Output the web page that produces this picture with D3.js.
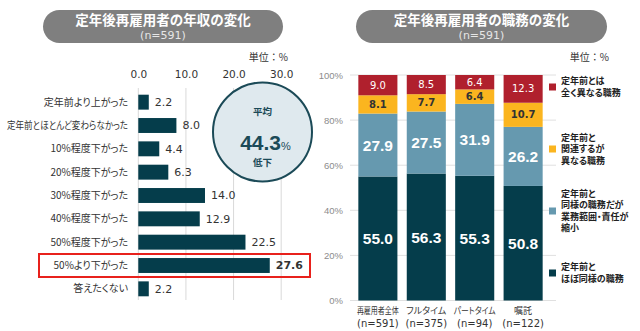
<!DOCTYPE html>
<html><head><meta charset="utf-8">
<script src="https://cdn.jsdelivr.net/npm/d3@7"></script>
<style>
html,body{margin:0;padding:0;background:#fff;}
svg{display:block;font-family:"Noto Sans CJK JP","Noto Sans",sans-serif;}
.jp{font-feature-settings:"palt" 1;}
</style></head>
<body><svg id="c" width="640" height="331"></svg>
<script>
// ---- Left chart data ----
const incomeCategories = ["定年前より上がった","定年前とほとんど変わらなかった","10%程度下がった","20%程度下がった","30%程度下がった","40%程度下がった","50%程度下がった","50%より下がった","答えたくない"];
const incomeValues = [2.2, 8.0, 4.4, 6.3, 14.0, 12.9, 22.5, 27.6, 2.2];
const incomeTicks = [0, 10, 20, 30];
const highlightCategory = "50%より下がった";
const averageDrop = 44.3;

// ---- Right chart data ----
const jobCategories = ["再雇用者全体","フルタイム","パートタイム","嘱託"];
const jobCounts = ["(n=591)","(n=375)","(n=94)","(n=122)"];
const seriesNames = ["定年前とほぼ同様の職務","定年前と同様の職務だが業務範囲・責任が縮小","定年前と関連するが異なる職務","定年前とは全く異なる職務"];
const sameJob = [55.0, 56.3, 55.3, 50.8];
const reducedJob = [27.9, 27.5, 31.9, 26.2];
const relatedJob = [8.1, 7.7, 6.4, 10.7];
const differentJob = [9.0, 8.5, 6.4, 12.3];
const yTicks = [0, 20, 40, 60, 80, 100];
const legendLines = [
  ["定年前とは","全く異なる職務"],
  ["定年前と","関連するが","異なる職務"],
  ["定年前と","同様の職務だが","業務範囲・責任が","縮小"],
  ["定年前と","ほぼ同様の職務"]
];

const colors = ["#053d4b", "#6699af", "#fbb51f", "#b0202d"];
const svg = d3.select("#c");
const txt = "#333";
const numFont = "'DejaVu Sans',Verdana,sans-serif";
const arial = "'Liberation Sans',Arial,sans-serif";

function fit(sel, maxW) {
  sel.each(function () {
    const w = this.getComputedTextLength();
    if (w > maxW) d3.select(this).attr("textLength", maxW).attr("lengthAdjust", "spacingAndGlyphs");
  });
}

// ---- Titles ----
function pill(cx, x0, x1, title, n) {
  svg.append("rect").attr("x", x0).attr("y", 10).attr("width", x1 - x0).attr("height", 33)
    .attr("rx", 16.5).attr("fill", "#7f7f7f");
  svg.append("text").attr("x", cx).attr("y", 25).attr("text-anchor", "middle")
    .attr("fill", "#fff").attr("font-size", 13.5).attr("font-weight", "bold").text(title);
  svg.append("text").attr("x", cx).attr("y", 39).attr("text-anchor", "middle")
    .attr("fill", "#e6e6e6").attr("font-size", 11).attr("font-family", numFont).text(n);
}
pill(163, 43, 283, "定年後再雇用者の年収の変化", "(n=591)");
pill(481.5, 356, 607, "定年後再雇用者の職務の変化", "(n=591)");
svg.append("text").attr("x", 288).attr("y", 61).attr("text-anchor", "end").attr("fill", txt).attr("font-size", 10).text("単位：%");
svg.append("text").attr("x", 609).attr("y", 61).attr("text-anchor", "end").attr("fill", txt).attr("font-size", 10).text("単位：%");

// ---- Left chart ----
const x = d3.scaleLinear().domain([0, 30]).range([138.3, 281.2]);
const y = d3.scaleBand().domain(incomeCategories).range([90.5, 300.5]).paddingInner(0.36).paddingOuter(0.18);

const gL = svg.append("g");
gL.selectAll("line.grid").data(incomeTicks).join("line")
  .attr("x1", d => x(d)).attr("x2", d => x(d)).attr("y1", 88).attr("y2", 300)
  .attr("stroke", "#d9d9d9").attr("stroke-width", 1);

const xAxis = d3.axisTop(x).tickValues(incomeTicks).tickFormat(d3.format(".1f")).tickSize(0);
const xa = gL.append("g").attr("transform", "translate(0,81)").call(xAxis);
xa.select(".domain").remove();
xa.selectAll("text").attr("font-size", 10.5).attr("fill", txt).attr("font-family", numFont).attr("dy", 0);

// circle
const cx = 262.5, cy = 132;
gL.append("circle").attr("cx", cx).attr("cy", cy).attr("r", 49.5)
  .attr("fill", "#dfe9ee").attr("stroke", "#1b4a57").attr("stroke-width", 2);
gL.append("text").attr("x", cx).attr("y", 115).attr("text-anchor", "middle").attr("fill", "#1b4a57")
  .attr("font-size", 9.5).attr("font-weight", "bold").text("平均");
const big = gL.append("text").attr("x", cx + 3).attr("y", 150).attr("text-anchor", "middle").attr("fill", "#1b4a57").attr("font-weight", "bold");
big.append("tspan").attr("font-size", 21).attr("font-family", arial).text(averageDrop.toFixed(1));
big.append("tspan").attr("font-size", 11).attr("font-weight", "normal").attr("font-family", arial).text("%");
gL.append("text").attr("x", cx).attr("y", 166).attr("text-anchor", "middle").attr("fill", "#1b4a57")
  .attr("font-size", 9.5).attr("font-weight", "bold").text("低下");

// bars
gL.selectAll("rect.bar").data(incomeValues).join("rect")
  .attr("x", x(0)).attr("y", (d, i) => y(incomeCategories[i]))
  .attr("width", d => x(d) - x(0)).attr("height", y.bandwidth())
  .attr("fill", colors[0]);
gL.selectAll("text.val").data(incomeValues).join("text")
  .attr("x", d => x(d) + 6).attr("y", (d, i) => y(incomeCategories[i]) + y.bandwidth() / 2)
  .attr("dy", "0.36em").attr("font-size", 11).attr("fill", txt)
  .attr("font-family", numFont)
  .attr("font-weight", (d, i) => incomeCategories[i] === highlightCategory ? "bold" : "normal")
  .text(d => d.toFixed(1));
const catL = gL.selectAll("text.cat").data(incomeCategories).join("text")
  .attr("class", "jp")
  .attr("x", 128).attr("y", d => y(d) + y.bandwidth() / 2).attr("dy", "0.36em")
  .attr("text-anchor", "end").attr("font-size", 10).attr("fill", txt).text(d => d);
fit(catL, 121);

// highlight box
const hy = y(highlightCategory) + y.bandwidth() / 2;
gL.append("rect").attr("x", 39).attr("y", hy - 11.5).attr("width", 271).attr("height", 23)
  .attr("fill", "none").attr("stroke", "#e8211c").attr("stroke-width", 2);

// ---- Right chart ----
const yR = d3.scaleLinear().domain([0, 100]).range([300.5, 75]);
const xR = d3.scaleBand().domain(jobCategories).range([353.5, 547.5]).paddingInner(0.193).paddingOuter(0.1);
const gR = svg.append("g");
gR.selectAll("line.grid").data(yTicks).join("line")
  .attr("x1", 350).attr("x2", 556).attr("y1", d => yR(d)).attr("y2", d => yR(d))
  .attr("stroke", "#e0e0e0").attr("stroke-width", 1);
const yAxis = d3.axisLeft(yR).tickValues(yTicks).tickFormat(d => d + "%").tickSize(0);
const ya = gR.append("g").attr("transform", "translate(346,0)").call(yAxis);
ya.select(".domain").remove();
ya.selectAll("text").attr("font-size", 9.5).attr("fill", "#8c8c8c").attr("font-family", arial).attr("dx", 0);

const table = jobCategories.map((c, i) => ({cat: c, s0: sameJob[i], s1: reducedJob[i], s2: relatedJob[i], s3: differentJob[i]}));
const stack = d3.stack().keys(["s0", "s1", "s2", "s3"])(table);
stack.forEach((layer, li) => {
  const g = gR.append("g");
  g.selectAll("rect").data(layer).join("rect")
    .attr("x", d => xR(d.data.cat)).attr("width", xR.bandwidth())
    .attr("y", d => yR(d[1])).attr("height", d => yR(d[0]) - yR(d[1]))
    .attr("fill", colors[li]);
  g.selectAll("text").data(layer).join("text")
    .attr("x", d => xR(d.data.cat) + xR.bandwidth() / 2)
    .attr("y", d => (yR(d[0]) + yR(d[1])) / 2).attr("dy", "0.36em")
    .attr("text-anchor", "middle")
    .attr("font-family", li < 2 ? arial : numFont)
    .attr("font-size", li < 2 ? 15.5 : 10)
    .attr("font-weight", li === 3 ? "normal" : "bold")
    .attr("fill", li === 2 ? "#333" : "#fff")
    .text(d => (d[1] - d[0]).toFixed(1));
});
// category labels
const catR = gR.selectAll("text.cat").data(jobCategories).join("text")
  .attr("class", "jp")
  .attr("x", d => xR(d) + xR.bandwidth() / 2).attr("y", 314).attr("text-anchor", "middle")
  .attr("font-size", 9).attr("fill", txt).text(d => d);
fit(catR, 42);
gR.selectAll("text.n").data(jobCategories).join("text")
  .attr("x", d => xR(d) + xR.bandwidth() / 2).attr("y", 327).attr("text-anchor", "middle")
  .attr("font-size", 10).attr("font-family", numFont).attr("fill", txt).text((d, i) => jobCounts[i]);

// legend
const legendY = [87, 149, 211, 273];
const legendColors = [colors[3], colors[2], colors[1], colors[0]];
legendLines.forEach((lines, i) => {
  const g = gR.append("g");
  g.append("rect").attr("x", 549).attr("y", legendY[i] - 3.5).attr("width", 7).attr("height", 7).attr("fill", legendColors[i]);
  const h = (lines.length - 1) * 11.5;
  lines.forEach((t, j) => {
    g.append("text").attr("class", "jp").attr("x", 561).attr("y", legendY[i] - h / 2 + j * 11.5).attr("dy", "0.36em")
      .attr("font-size", 9).attr("font-weight", "bold").attr("fill", "#222").text(t);
  });
});
</script></body></html>
